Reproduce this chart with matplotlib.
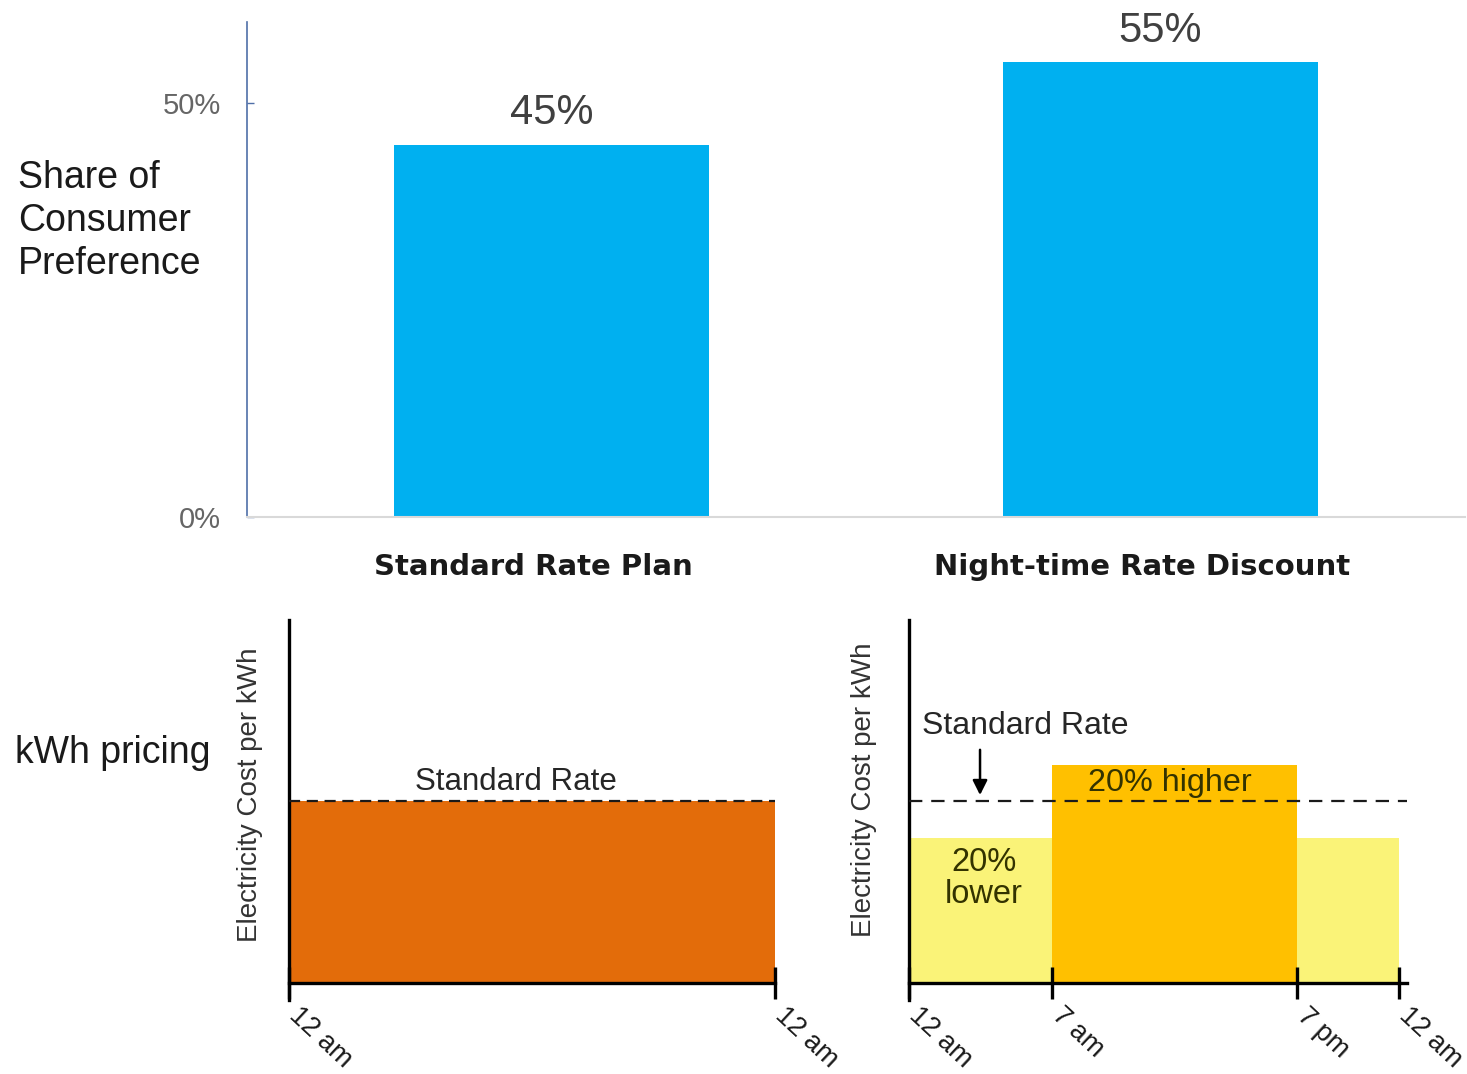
import matplotlib
matplotlib.use("Agg")
import matplotlib.pyplot as plt
from matplotlib.ticker import FuncFormatter
from matplotlib.transforms import ScaledTranslation

# ---- data ----
plans = ["Standard Rate Plan", "Night-time Rate Discount"]
preference = [0.45, 0.55]
pref_labels = ["45%", "55%"]
pref_ticks = [0.0, 0.5]

std_hours = [0, 24]            # 12 am -> 12 am
std_rate = [1.0]               # relative to standard rate
std_tick_labels = ["12 am", "12 am"]

tou_edges = [0, 7, 19, 24]     # 12 am, 7 am, 7 pm, 12 am
tou_rates = [0.8, 1.2, 0.8]    # 20% lower, 20% higher, 20% lower
tou_tick_labels = ["12 am", "7 am", "7 pm", "12 am"]
standard_rate = 1.0

W, H = 1467, 1074
fig = plt.figure(figsize=(W / 100, H / 100), dpi=100)
plt.rcParams['font.family'] = ['Liberation Sans', 'DejaVu Sans']

def fx(px):
    return px / W

def fy(py):
    return 1 - py / H

def shift(px_x, px_y):
    return ScaledTranslation(px_x / 100, px_y / 100, fig.dpi_scale_trans)

# ---- top bar chart ----
ax = fig.add_axes([fx(247), fy(517), fx(1465 - 247), (517 - 22) / H])
xpos = list(range(len(plans)))
bars = ax.bar(xpos, preference, width=0.517, color="#00B0F0")
ax.set_xlim(-0.5, 1.5)
ax.set_ylim(0, 0.598)
ax.set_yticks(pref_ticks)
ax.yaxis.set_major_formatter(FuncFormatter(lambda v, p: f"{v*100:.0f}%"))
ax.tick_params(axis="y", direction="in", length=5, width=1, color="#4F6FA8",
               labelsize=21, labelcolor="#666666", pad=19)
ax.set_xticks(xpos)
ax.set_xticklabels(plans, fontfamily="DejaVu Sans", fontweight="bold",
                   fontsize=21, color="#1a1a1a")
ax.tick_params(axis="x", length=0, pad=26)
for lab in ax.get_xticklabels():
    lab.set_transform(lab.get_transform() + shift(-18, 0))
for s in ["top", "right"]:
    ax.spines[s].set_visible(False)
ax.spines["left"].set_color("#4F6FA8")
ax.spines["left"].set_linewidth(1.2)
ax.spines["bottom"].set_color("#D9D9D9")
ax.spines["bottom"].set_linewidth(1.5)
for b, lab in zip(bars, pref_labels):
    ax.annotate(lab, (b.get_x() + b.get_width() / 2, b.get_height()),
                xytext=(0, 8), textcoords="offset points",
                ha="center", va="bottom", fontsize=30, color="#404040")

fig.text(fx(18), fy(221), "Share of\nConsumer\nPreference", fontsize=27,
         ha="left", va="center", linespacing=1.24, color="#1a1a1a")
fig.text(fx(15), fy(753), "kWh pricing", fontsize=27, ha="left",
         va="center", color="#1a1a1a")

YLO = -0.094

def style_small(a, ticks, labels):
    for s in ["top", "right"]:
        a.spines[s].set_visible(False)
    a.spines["left"].set_linewidth(2.4)
    a.spines["left"].set_color("black")
    a.spines["bottom"].set_position(("data", 0))
    a.spines["bottom"].set_linewidth(2.4)
    a.spines["bottom"].set_color("black")
    a.set_yticks([])
    a.set_xticks(ticks)
    a.set_xticklabels(labels, rotation=-43, ha="left", va="center",
                      rotation_mode="anchor", fontsize=19.5, color="#1a1a1a")
    a.tick_params(axis="x", direction="inout", length=23, width=2.4,
                  color="black", pad=9.5)
    for lab in a.get_xticklabels():
        lab.set_transform(lab.get_transform() + shift(4, 0))
    a.set_ylim(YLO, 2.0)

# ---- bottom-left: standard rate ----
ax1 = fig.add_axes([fx(289), fy(1000), fx(775 - 289), 380 / H])
ax1.bar(std_hours[0], std_rate[0], width=std_hours[1] - std_hours[0],
        align="edge", color="#E36C0A", zorder=1)
ax1.set_xlim(0, 24)
ax1.plot(std_hours, [standard_rate, standard_rate], ls=(0, (5, 3)),
         color="#1a1a1a", lw=1.6, zorder=3)
ax1.text(11.2, 1.025, "Standard Rate", ha="center", va="bottom",
         fontsize=22.5, color="#262626")
style_small(ax1, [0, 24], std_tick_labels)
fig.text(fx(250), fy(795), "Electricity Cost per kWh", rotation=90,
         ha="center", va="center", fontsize=20, color="#333333")

# ---- bottom-right: night-time discount ----
ax2 = fig.add_axes([fx(909), fy(1000), fx(1407 - 909), 380 / H])
colors = ["#FAF378", "#FFC000", "#FAF378"]
for i in range(len(tou_rates)):
    ax2.bar(tou_edges[i], tou_rates[i], width=tou_edges[i + 1] - tou_edges[i],
            align="edge", color=colors[i], zorder=1)
ax2.set_xlim(0, 24.4)
ax2.plot([0, 24.4], [standard_rate, standard_rate], ls=(0, (6, 4)),
         color="#1a1a1a", lw=1.6, zorder=3, clip_on=False)
ax2.annotate("", xy=(3.48, 1.02), xytext=(3.48, 1.30),
             arrowprops=dict(arrowstyle="-|>", color="black", lw=1.8,
                             mutation_scale=22))
ax2.text(0.64, 1.415, "Standard Rate", ha="left", va="center",
         fontsize=23, color="#262626")
ax2.text(12.8, 1.1, "20% higher", ha="center", va="center",
         fontsize=23.3, color="#333300")
ax2.text(3.67, 0.575, "20%\nlower", ha="center", va="center",
         fontsize=23.5, color="#333300", linespacing=1.05)
style_small(ax2, tou_edges, tou_tick_labels)
fig.text(fx(864), fy(790), "Electricity Cost per kWh", rotation=90,
         ha="center", va="center", fontsize=20, color="#333333")

fig.savefig("out.png", dpi=100)
